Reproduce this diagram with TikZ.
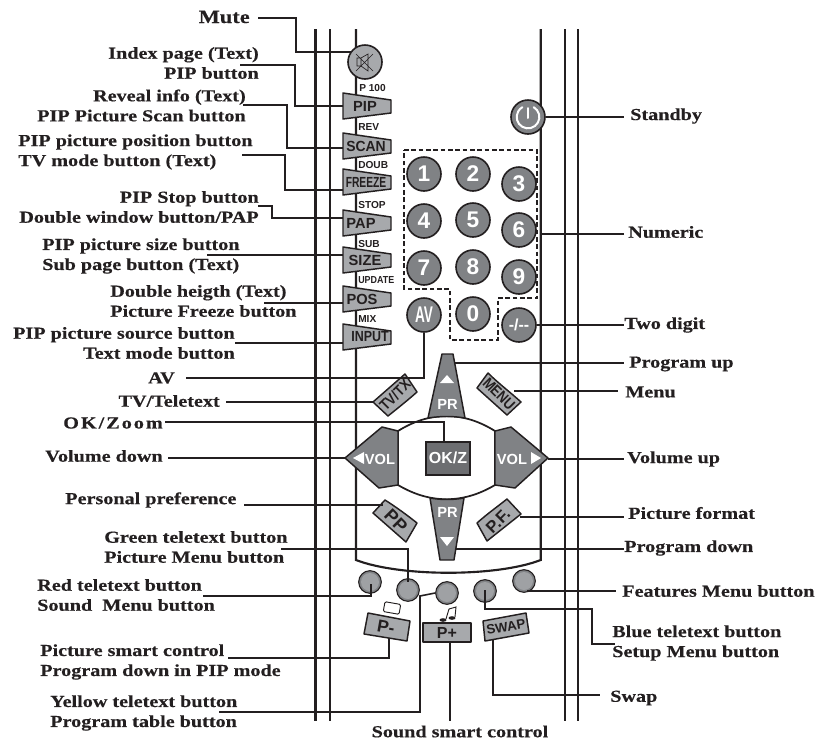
\documentclass[tikz,border=0pt]{standalone}
\usepackage{amsmath}
\usepackage{fontspec}
\usepackage{xcolor}
\setmainfont{Liberation Serif}[FakeStretch=1.2,BoldFeatures={FakeBold=0.4}]
\newfontfamily\btnfont{Liberation Sans}
\definecolor{ink}{HTML}{231F20}
\definecolor{dgray}{HTML}{6D6E71}
\definecolor{mgray}{HTML}{808285}
\definecolor{lgray}{HTML}{A7A9AC}
\tikzset{
    wire/.style={draw=ink,line width=1.2pt},
    lbl/.style={font=\fontsize{12.6}{15}\selectfont\bfseries,text=ink,inner sep=0pt,align=left},
    btn/.style={draw=ink,fill=lgray,line width=1.1pt,line join=round},
    gbtn/.style={draw=ink,fill=mgray,line width=1.1pt,line join=round},
    rbtn/.style={circle,draw=ink,fill=mgray,line width=1.2pt,minimum size=25.5pt,inner sep=0pt,
        text=white,font=\btnfont\fontsize{17}{17}\selectfont\bfseries},
    sbtn/.style={circle,draw=ink,fill=mgray,line width=.8pt,minimum size=17pt,inner sep=0pt},
    btxt/.style={inner sep=0pt,text=ink,font=\btnfont\fontsize{11}{11}\selectfont\bfseries},
    wtxt/.style={inner sep=0pt,text=white,font=\btnfont\fontsize{11}{11}\selectfont\bfseries},
    sml/.style={inner sep=0pt,anchor=west,text=ink,font=\btnfont\fontsize{7.6}{8}\selectfont\bfseries},
}
\newcommand{\trapbtn}[4]{
    \draw[btn] (343,#2-13) -- (391,#2-6) -- (391,#2+7) -- (343,#2+13) -- cycle;
    \node[btxt] (#1) at (#4,#2) {#3};
}
\begin{document}
\begin{tikzpicture}[x=0.75pt,y=-0.75pt]
    \useasboundingbox (0,0) rectangle (819,740);
    % remote body
    \draw[draw=ink,line width=1.9pt] (315.5,29)--(315.5,721);
    \draw[draw=ink,line width=1.6pt] (330,29)--(330,721);
    \draw[draw=ink,line width=1.9pt] (565,29)--(565,721);
    \draw[draw=ink,line width=1.6pt] (578,29)--(578,721);
    \draw[draw=ink,line width=1.6pt] (356,29)--(356,560) .. controls (400,577) and (497,577) .. (540.7,560)--(540.7,29);

    % labels on the left
    \node[lbl,anchor=east,font=\fontsize{14}{15}\selectfont\bfseries] (mute) at (250,17) {Mute};
    \node[lbl,anchor=east,align=right] (pipT) at (259,63) {Index page (Text)\\PIP button};
    \node[lbl,anchor=east,align=right] (scanT) at (246,105.5) {Reveal info (Text)\\PIP Picture Scan button};
    \node[lbl,anchor=west] (freezeT) at (18,152) {PIP picture position button\\TV mode button (Text)};
    \node[lbl,anchor=east,align=right] (papT) at (259,207) {PIP Stop button\\Double window button/PAP};
    \node[lbl,anchor=west] (sizeT) at (42,256) {PIP picture size button\\Sub page button (Text)};
    \node[lbl,anchor=west] (posT) at (110,301) {Double heigth (Text)\\Picture Freeze button};
    \node[lbl,anchor=east,align=right] (inputT) at (235,343) {PIP picture source button\\Text mode button};
    \node[lbl,anchor=east] (avT) at (175,378) {AV};
    \node[lbl,anchor=east] (tvT) at (220,401) {TV/Teletext};
    \node[lbl,anchor=west] (okT) at (63,423) {\addfontfeature{LetterSpace=12}OK/Zoom};
    \node[lbl,anchor=east] (volT) at (163,456) {Volume down};
    \node[lbl,anchor=west] (ppT) at (65,500) {Personal preference};
    \node[lbl,anchor=west] (greenT) at (104,547) {Green teletext button\\Picture Menu button};
    \node[lbl,anchor=west] (redT) at (37,595) {Red teletext button\\Sound~ Menu button};
    \node[lbl,anchor=west] (pmT) at (40,662) {Picture smart control\\Program down in PIP mode};
    \node[lbl,anchor=west] (yellowT) at (50,713) {Yellow teletext button\\Program table button};
    \node[lbl] (ppluT) at (460,731.5) {Sound smart control};

    % labels on the right
    \node[lbl,anchor=west] (standbyT) at (630,116) {Standby};
    \node[lbl,anchor=west] (numT) at (628,232) {Numeric};
    \node[lbl,anchor=west] (twoT) at (624,325) {Two digit};
    \node[lbl,anchor=west] (upT) at (629,364) {Program up};
    \node[lbl,anchor=west] (menuT) at (625,392) {Menu};
    \node[lbl,anchor=west] (volupT) at (627,459) {Volume up};
    \node[lbl,anchor=west] (pfT) at (628,513) {Picture format};
    \node[lbl,anchor=west] (downT) at (624,548) {Program down};
    \node[lbl,anchor=west] (featT) at (622,591) {Features Menu button};
    \node[lbl,anchor=west] (blueT) at (612,643) {Blue teletext button\\Setup Menu button};
    \node[lbl,anchor=west] (swapT) at (610,698) {Swap};

    % free ends of the wires
    \coordinate (muteE) at (258,18);
    \coordinate (pipE) at (240,65);
    \coordinate (scanE) at (243,105);
    \coordinate (freezeE) at (242,155);
    \coordinate (papE) at (258,206);
    \coordinate (sizeE) at (207,255);
    \coordinate (posE) at (264,303);
    \coordinate (inputE) at (235,343);
    \coordinate (avE) at (186,378);
    \coordinate (tvE) at (226,402);
    \coordinate (okE) at (165,422);
    \coordinate (volE) at (168,458);
    \coordinate (ppE) at (244,505);
    \coordinate (greenE) at (281,549);
    \coordinate (redE) at (203,596);
    \coordinate (pmE) at (228,658);
    \coordinate (yellowE) at (219,712);
    \coordinate (standbyE) at (624,117);
    \coordinate (numE) at (624,234);
    \coordinate (twoE) at (624,325);
    \coordinate (upE) at (624,363);
    \coordinate (menuE) at (618,391);
    \coordinate (volupE) at (624,459);
    \coordinate (pfE) at (624,517);
    \coordinate (downE) at (624,549);
    \coordinate (featE) at (616,591);
    \coordinate (blueE) at (615,644);
    \coordinate (swapE) at (600,695);
    \coordinate (pplusE) at (450,721);

    % wires behind the buttons
    \draw[wire] (muteE)-|(296,52)--(356,52);
    \draw[wire] (pipE)-|(295,106)--(350,106);
    \draw[wire] (scanE)-|(287,148)--(350,148);
    \draw[wire] (freezeE)-|(285,190)--(350,190);
    \draw[wire] (papE)-|(272,218)--(350,218);
    \draw[wire] (sizeE)--(350,255);
    \draw[wire] (posE)--(350,303);
    \draw[wire] (inputE)--(350,343);
    \draw[wire] (numE)--(541,234);

    % numeric keys
    \draw[ink,dash pattern=on 3.5pt off 2pt,line width=1pt] (404,150)--(537,150)--(537,298)--(498,298)--(498,340)--(450,340)--(450,289)--(404,289)--cycle;
    \node[rbtn] (b1) at (424,174) {1};
    \node[rbtn] (b2) at (473,174) {2};
    \node[rbtn] (b3) at (519,184) {3};
    \node[rbtn] (b4) at (424,221) {4};
    \node[rbtn] (b5) at (473,220) {5};
    \node[rbtn] (b6) at (519,230) {6};
    \node[rbtn] (b7) at (424,268) {7};
    \node[rbtn] (b8) at (473,267) {8};
    \node[rbtn] (b9) at (519,277) {9};
    \node[rbtn] (b0) at (473,314) {0};
    \node[rbtn,font=\btnfont\fontsize{12}{12}\selectfont\bfseries] (digit) at (519,325) {-/--};
    \node[rbtn,font=\btnfont\fontsize{17}{17}\selectfont\bfseries] (av) at (424,315) {\scalebox{.6}[1]{AV}};

    % standby and mute
    \node[rbtn] (standby) at (528,117) {};
    \draw[white,line width=1.5pt,line cap=round] (533.7,107.2) arc[start angle=60,end angle=-240,radius=8.5pt];
    \draw[white,line width=1.5pt,line cap=round] (528,108)--(528,118);
    \node[rbtn,fill=lgray] (mutebtn) at (365,62) {};
    \draw[ink,line width=.5pt] (357,58)--(361,58)--(368,54)--(368,71)--(361,66)--(357,66)--cycle (361,58)--(361,66) (356,54)--(373,71) (356,71)--(373,54);

    % column of buttons with text labels
    \trapbtn{pip}{106}{PIP}{365}
    \trapbtn{scan}{146}{\scalebox{.95}[1]{SCAN}}{366}
    \trapbtn{freeze}{182}{\scalebox{.7}[1]{FREEZE}}{366}
    \trapbtn{pap}{223}{PAP}{361}
    \trapbtn{size}{260}{SIZE}{365}
    \trapbtn{pos}{299}{POS}{362}
    \trapbtn{input}{337}{\scalebox{.85}[1]{INPUT}}{370}
    \node[sml] (p100) at (359,88) {P 100};
    \node[sml] (rev) at (358,127) {REV};
    \node[sml] (doub) at (358,165) {DOUB};
    \node[sml] (stop) at (358,205) {STOP};
    \node[sml] (sub) at (358,244) {SUB};
    \node[sml] (update) at (358,280) {\scalebox{.88}[1]{UPDATE}};
    \node[sml] (mix) at (358,319) {MIX};

    % cross pad
    \draw[draw=ink,fill=white,line width=1.3pt] (398,431) .. controls (430,411) and (463,411) .. (495,431)--(495,485) .. controls (463,504) and (430,504) .. (398,485)--cycle;
    \draw[gbtn] (442,354)--(453,354)--(465,418) .. controls (453,416) and (441,416) .. (428,418)--cycle;
    \draw[gbtn] (430,498) .. controls (441,500) and (453,500) .. (464,498)--(454,560)--(440,560)--cycle;
    \draw[gbtn] (345,458)--(382,427)--(398,431)--(398,485)--(379,488)--cycle;
    \draw[gbtn] (548,458)--(511,427)--(495,431)--(495,485)--(515,488)--cycle;
    \node[wtxt] (prup) at (447.5,404) {PR};
    \node[wtxt] (prdown) at (447.5,512) {PR};
    \fill[white] (447,375)--(440,383)--(454,383)--cycle;
    \fill[white] (447,546)--(440,537)--(454,537)--cycle;
    \node[wtxt] (vollft) at (380,459) {VOL};
    \node[wtxt] (volrgt) at (512,459) {VOL};
    \fill[white] (353,458)--(364,452)--(364,464)--cycle;
    \fill[white] (541,458)--(531,452)--(531,464)--cycle;
    \draw[draw=ink,fill=dgray,line width=1.1pt] (426,442) rectangle (470,475);
    \node[wtxt,font=\btnfont\fontsize{12}{12}\selectfont\bfseries] (okz) at (448,458) {OK/Z};

    % tilted buttons
    \draw[btn] (373,402)--(405,374)--(417,392) .. controls (408,400) and (398,408) .. (388,416)--cycle;
    \node[btxt,rotate=45,font=\btnfont\fontsize{11.5}{12}\selectfont\bfseries] (tvtx) at (395,395) {\scalebox{.85}[1]{TV/TX}};
    \draw[btn] (488,373)--(477,388)--(507,415)--(521,402) .. controls (510,392) and (498,383) .. (488,373)--cycle;
    \node[btxt,rotate=-45,font=\btnfont\fontsize{11.5}{12}\selectfont\bfseries] (menu) at (499,394) {\scalebox{.85}[1]{MENU}};
    \draw[btn] (385,500)--(373,513)--(406,542)--(417,523) .. controls (407,515) and (396,507) .. (385,500)--cycle;
    \node[btxt,rotate=-45,font=\btnfont\fontsize{13.5}{14}\selectfont\bfseries] (pp) at (396,521) {PP};
    \draw[btn] (507,499)--(521,514)--(487,541)--(477,523) .. controls (487,514) and (497,507) .. (507,499)--cycle;
    \node[btxt,rotate=45,font=\btnfont\fontsize{12.5}{13}\selectfont\bfseries] (pf) at (498,521) {P.F.};

    % colour keys
    \node[sbtn] (red) at (370,582) {};
    \node[sbtn] (green) at (408,590) {};
    \node[sbtn] (yellow) at (447,593) {};
    \node[sbtn] (blue) at (485,591) {};
    \node[sbtn] (feat) at (524,581) {};
    \fill[lgray!80!mgray] (370,582) circle (9);
    \fill[lgray!80!mgray] (408,590) circle (9);
    \fill[lgray!80!mgray] (447,593) circle (9);
    \fill[lgray!80!mgray] (485,591) circle (9);
    \fill[lgray!80!mgray] (524,581) circle (9);

    % lower buttons
    \draw[btn] (368,613)--(364,634)--(407,641)--(410,621)--cycle;
    \node[btxt,rotate=-10,font=\btnfont\fontsize{13}{13}\selectfont\bfseries] (pminus) at (386,627) {P-};
    \draw[btn] (423,623) rectangle (471,642);
    \node[btxt,font=\btnfont\fontsize{12}{12}\selectfont\bfseries] (pplus) at (447,633) {P+};
    \draw[btn] (483,621)--(485,641)--(529,633)--(526,613)--cycle;
    \node[btxt,rotate=10,font=\btnfont\fontsize{10}{10}\selectfont\bfseries] (swap) at (506,627) {SWAP};
    \draw[draw=ink,fill=white,line width=.7pt,rounded corners=1pt,rotate around={-10:(392,608)}] (384,603) rectangle (400,613);
    \fill[ink] (443,620) ellipse (3.5 and 1.8) (452,618) ellipse (3.5 and 1.8);
    \draw[ink,line width=.7pt] (446,619)--(449,609)--(456,607)--(455,617);

    % wires in front of the buttons
    \draw[wire] (avE)-|(av.south);
    \draw[wire] (tvE)--(373,402);
    \draw[wire] (okE)-|(444,441);
    \draw[wire] (volE)--(345,458);
    \draw[wire] (ppE)--(383,505);
    \draw[wire] (greenE)-|(408,582);
    \draw[wire] (redE)-|(371,584);
    \draw[wire] (pmE)-|(389,638);
    \draw[wire] (yellowE)-|(420,596)--(yellow.west);
    \draw[wire] (450,642)--(pplusE);
    \draw[wire] (standby.east)--(standbyE);
    \draw[wire] (digit.east)--(twoE);
    \draw[wire] (455,363)--(upE);
    \draw[wire] (514,391)--(menuE);
    \draw[wire] (548,459)--(volupE);
    \draw[wire] (520,517)--(pfE);
    \draw[wire] (456,549)--(downE);
    \draw[wire] (527,591)--(featE);
    \draw[wire] (485,590)|-(592,609)|-(blueE);
    \draw[wire] (493,640)|-(swapE);
\end{tikzpicture}
\end{document}
